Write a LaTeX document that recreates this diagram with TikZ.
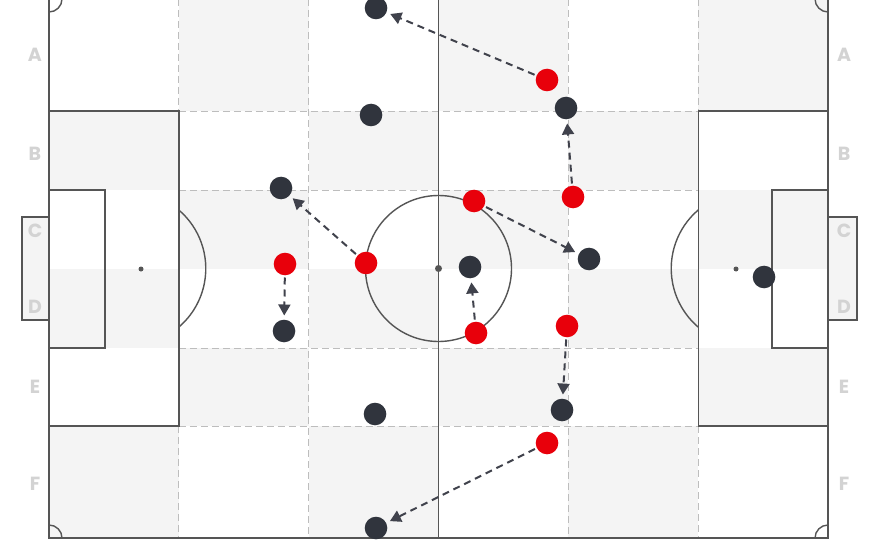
\documentclass[tikz,border=0pt]{standalone}
\usepackage{fontspec}
\setsansfont{Poppins}
\usepackage{xcolor}
\usetikzlibrary{arrows.meta}

\definecolor{cellgray}{HTML}{F4F4F4}
\definecolor{linegray}{HTML}{555555}
\definecolor{gridgray}{HTML}{BDBDBD}
\definecolor{labelgray}{HTML}{D3D3D3}
\definecolor{darkplayer}{HTML}{30343D}
\definecolor{redplayer}{HTML}{E8000B}
\definecolor{arrowgray}{HTML}{40424C}

\begin{document}
\begin{tikzpicture}[x=1pt,y=-1pt,
  pitch/.style={draw=linegray,line width=1.4pt},
  gridline/.style={draw=gridgray,line width=0.9pt,dash pattern=on 7pt off 4pt},
  zone/.style={text=labelgray,inner sep=0pt,font=\fontsize{19}{19}\selectfont\sffamily\bfseries},
  defender/.style={circle,fill=darkplayer,inner sep=0pt,minimum size=22.6pt},
  attacker/.style={circle,fill=redplayer,inner sep=0pt,minimum size=22.6pt},
  run/.style={draw=arrowgray,line width=2pt,dash pattern=on 7pt off 5pt,
    -{Triangle[length=11pt,width=12pt]},shorten <=2pt,shorten >=4pt}]
\useasboundingbox (0,0) rectangle (880,540);
\fill [white] (0,0) rectangle (880,540);
% zones
\foreach \ya/\yb/\p in {-1/111/1, 111/190/0, 190/268.5/1, 268.5/348/0, 348/426/1, 426/538/0}
  \foreach \k in {0,2,4}
    \fill [cellgray] ({49+(\p+\k)*129.83},\ya) rectangle ({49+(\p+\k+1)*129.83},\yb);
\draw [gridline] (308.7,-1) -- (308.7,538);
\draw [gridline] (568.3,-1) -- (568.3,538);
\draw [gridline] (178.8,-1) -- (178.8,111) (178.8,426) -- (178.8,538);
\draw [gridline] (698.2,-1) -- (698.2,111) (698.2,426) -- (698.2,538);
\foreach \y in {111,190,348,426}
  \draw [gridline] (178.8,\y) -- (698.2,\y);
% goals
\draw [pitch,fill=cellgray] (22,217) rectangle (49,320);
\draw [pitch,fill=cellgray] (828,217) rectangle (857,320);
% pitch
\draw [pitch] (49,-1) rectangle (828,538);
\draw [pitch] (438.5,-1) -- (438.5,538);
\draw [pitch] (438.5,268.5) circle (73);
\fill [linegray] (438.5,268.5) circle (3.5);
\draw [pitch] (49,111) rectangle (178.8,426);
\draw [pitch] (49,190) rectangle (105,348);
\draw [pitch] (698.2,111) rectangle (828,426);
\draw [pitch] (772,190) rectangle (828,348);
\fill [linegray] (141,269) circle (2.5);
\fill [linegray] (736,269) circle (2.5);
\draw [pitch] (178.8,210) arc (-49.5:49.5:77);
\draw [pitch] (698.2,210) arc (229.5:130.5:77);
\draw [pitch] (62,-1) arc (0:90:13);
\draw [pitch] (49,525) arc (-90:0:13);
\draw [pitch] (815,-1) arc (180:90:13);
\draw [pitch] (828,525) arc (-90:-180:13);
% zone letters
\foreach \l/\y in {A/55, B/154, C/231, D/307, E/387, F/484} {
  \node [zone] (left\l) at (35,\y) {\l};
  \node [zone] (right\l) at (844,\y) {\l};
}
% players
\node [defender] (b1) at (376,8) {};
\node [defender] (b2) at (371,115) {};
\node [defender] (b3) at (281,188) {};
\node [defender] (b4) at (284,331) {};
\node [defender] (b5) at (470,267) {};
\node [defender] (b6) at (566,108) {};
\node [defender] (b7) at (589,259) {};
\node [defender] (b8) at (764,277) {};
\node [defender] (b9) at (562,410) {};
\node [defender] (b10) at (375,414) {};
\node [defender] (b11) at (376,528) {};
\node [attacker] (r1) at (547,80) {};
\node [attacker] (r2) at (573,197) {};
\node [attacker] (r3) at (474,201) {};
\node [attacker] (r4) at (366,263) {};
\node [attacker] (r5) at (285,264) {};
\node [attacker] (r6) at (476,333) {};
\node [attacker] (r7) at (567,326) {};
\node [attacker] (r8) at (547,443) {};
% runs
\draw [run] (r1) -- (b1);
\draw [run] (r2) -- (b6);
\draw [run] (r3) -- (b7);
\draw [run] (r4) -- (b3);
\draw [run] (r5) -- (b4);
\draw [run] (r6) -- (b5);
\draw [run] (r7) -- (b9);
\draw [run] (r8) -- (b11);
\end{tikzpicture}
\end{document}
